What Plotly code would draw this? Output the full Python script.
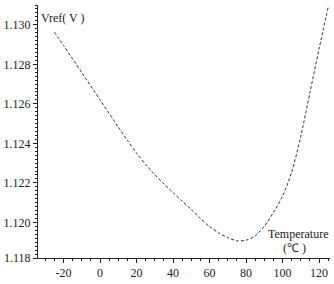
import plotly.graph_objects as go

temperature = [-25, -20, -10, 0, 10, 15, 20, 25, 30, 35, 40, 45, 50, 55, 60, 65, 70, 75,
               80, 85, 90, 95, 100, 105, 110, 115, 120, 125]
vref = [1.12963, 1.12895, 1.12758, 1.12620, 1.12483, 1.12415, 1.12351, 1.12293, 1.12242, 1.12195,
        1.12151, 1.12108, 1.12065, 1.12020, 1.11979, 1.11947, 1.11923, 1.11907,
        1.11910, 1.11932, 1.11981, 1.12050, 1.12133, 1.12255, 1.12436, 1.12657, 1.12878, 1.13090]

x_ticks = [-20, 0, 20, 40, 60, 80, 100, 120]
y_ticks = [1.1182, 1.120, 1.122, 1.124, 1.126, 1.128, 1.130]
y_labels = ["1.118", "1.120", "1.122", "1.124", "1.126", "1.128", "1.130"]

font = dict(family="Liberation Serif", size=12, color="#222")

fig = go.Figure()
fig.add_trace(go.Scatter(
    x=temperature, y=vref, mode="lines",
    line=dict(color="#333", width=1, dash="3px,2px", shape="spline", smoothing=0.8),
    showlegend=False, hoverinfo="skip",
))

fig.update_layout(
    width=334, height=284,
    margin=dict(l=34, r=4, t=5, b=17),
    paper_bgcolor="white", plot_bgcolor="white",
    font=font,
)
fig.update_xaxes(
    range=[-34, 126], showgrid=False, zeroline=False,
    showline=True, linecolor="#222", linewidth=1,
    ticks="outside", ticklen=4, tickcolor="#222",
    tickvals=x_ticks, ticktext=[str(v) for v in x_ticks],
    minor=dict(dtick=5, tick0=0, ticks="outside", ticklen=2, tickcolor="#222"),
    tickfont=font,
)
fig.update_yaxes(
    range=[1.1182, 1.1310], showgrid=False, zeroline=False,
    showline=True, linecolor="#222", linewidth=1,
    ticks="outside", ticklen=4, tickcolor="#222",
    tickvals=y_ticks, ticktext=y_labels,
    minor=dict(dtick=0.0002, tick0=1.1182, ticks="outside", ticklen=2, tickcolor="#222"),
    tickfont=font,
)

fig.add_annotation(x=0.005, y=0.985, xref="paper", yref="paper", text="Vref( V )",
                   showarrow=False, xanchor="left", yanchor="top", font=font)
fig.add_annotation(x=1.0, y=0.095, xref="paper", yref="paper", text="Temperature",
                   showarrow=False, xanchor="right", yanchor="middle", font=font)
fig.add_annotation(x=0.878, y=0.038, xref="paper", yref="paper", text="(℃ )",
                   showarrow=False, xanchor="center", yanchor="middle", font=font)

fig.write_html("out.html")
